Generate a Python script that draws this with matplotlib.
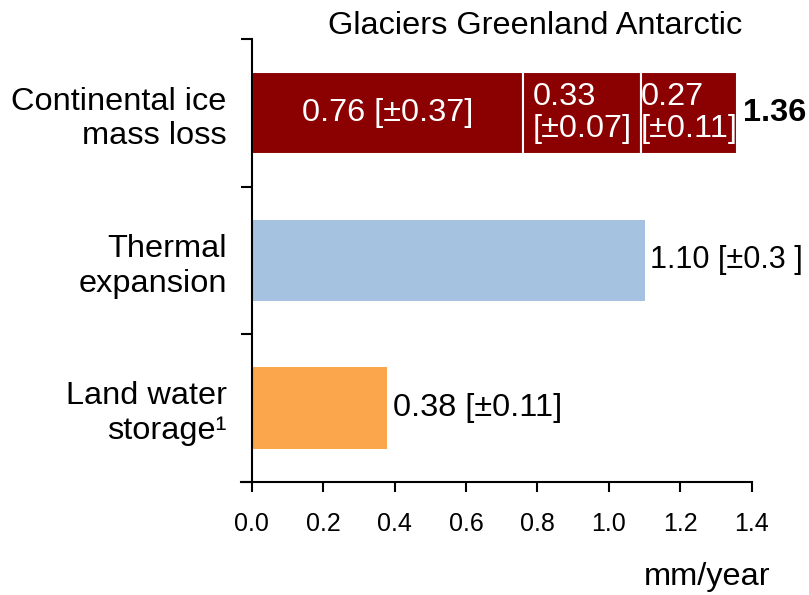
import matplotlib
matplotlib.use("Agg")
import matplotlib.pyplot as plt

plt.rcParams["font.family"] = ["Liberation Sans", "DejaVu Sans"]

# ---- data
categories = ["Continental ice\nmass loss", "Thermal\nexpansion", "Land water\nstorage\u00b9"]
ice_parts = ["Glaciers", "Greenland", "Antarctic"]
ice_values = [0.76, 0.33, 0.27]
ice_labels = ["0.76 [\u00b10.37]", "0.33\n[\u00b10.07]", "0.27\n[\u00b10.11]"]
ice_total = 1.36
other_values = [1.10, 0.38]
other_labels = ["1.10 [\u00b10.3 ]", "0.38 [\u00b10.11]"]
xticks = [0.0, 0.2, 0.4, 0.6, 0.8, 1.0, 1.2, 1.4]

RED = "#8B0000"
other_colors = ["#A5C2E1", "#FBA54C"]
other_fs = [22, 23.4]
FS = 23.4

fig = plt.figure(figsize=(8.09, 5.95), dpi=100)
ax = fig.add_axes([0.2979, 0.1904, 0.6313, 0.7436])

# stacked continental bar
left = 0.0
for v, lab in zip(ice_values, ice_labels):
    ax.barh(0, v, left=left, height=0.55, color=RED, edgecolor="white", linewidth=1.5)
    ax.text(left + v / 2, 0, lab, color="white", fontsize=FS, ha="center", va="center",
            multialignment="left", linespacing=1.1)
    left += v
ax.annotate(f"{ice_total:.2f}", (ice_total, 0), xytext=(4, 0), textcoords="offset points",
            fontsize=FS, fontweight="bold", ha="left", va="center")

for i, (v, lab, c, fs) in enumerate(zip(other_values, other_labels, other_colors, other_fs), start=1):
    ax.barh(i, v, height=0.55, color=c)
    ax.annotate(lab, (v, i), xytext=(4, 0), textcoords="offset points",
                fontsize=fs, ha="left", va="center")

ax.set_xlim(-0.03, 1.4)
ax.set_ylim(2.5, -0.5)

for s in ["top", "right"]:
    ax.spines[s].set_visible(False)
ax.spines["left"].set_position(("data", 0))
ax.spines["left"].set_linewidth(1.5)
ax.spines["bottom"].set_linewidth(1.5)

ax.set_xticks(xticks)
ax.set_xticklabels([f"{t:.1f}" for t in xticks])
ax.tick_params(axis="x", direction="out", length=7, width=1.5, labelsize=18, pad=15)

ax.set_yticks([0, 1, 2])
ax.set_yticklabels(categories, fontsize=FS, linespacing=1.2)
ax.set_yticks([-0.5, 0.5, 1.5, 2.5], minor=True)
ax.tick_params(axis="y", which="major", length=0, pad=18)
ax.tick_params(axis="y", which="minor", direction="out", length=7.7, width=1.5)

fig.text(535 / 809, 1 - 26 / 595, " ".join(ice_parts), fontsize=FS, ha="center", va="center")
fig.text(770 / 809, 1 - 577 / 595, "mm/year", fontsize=FS, ha="right", va="center")

fig.savefig("out.png", dpi=100)
